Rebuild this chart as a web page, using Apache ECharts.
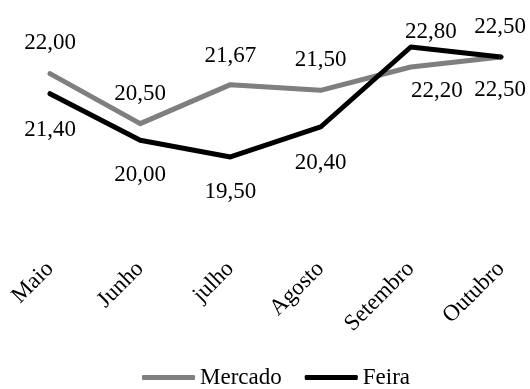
<!DOCTYPE html>
<html>
<head>
<meta charset="utf-8">
<script src="https://cdn.jsdelivr.net/npm/echarts@6/dist/echarts.min.js"></script>
<style>
  html, body { margin: 0; padding: 0; background: #fff; }
  #chart { width: 530px; height: 389px; }
</style>
</head>
<body>
<div id="chart"></div>
<script>
// Monthly prices, market vs. street fair
const months = ['Maio', 'Junho', 'julho', 'Agosto', 'Setembro', 'Outubro'];
const mercado = [22.00, 20.50, 21.67, 21.50, 22.20, 22.50];
const feira = [21.40, 20.00, 19.50, 20.40, 22.80, 22.50];

// Where each value label sits relative to its point (px)
const mercadoLabelOffsets = [[0, -31], [0, -30], [0, -29], [0, -30], [26, 24], [-1, 33]];
const feiraLabelOffsets = [[0, 36], [0, 35], [0, 35], [0, 36], [20, -15], [-1, -30]];

const FONT = 'Liberation Serif';
const fmt = v => v.toFixed(2).replace('.', ',');

function withLabels(values, offsets) {
  return values.map((v, i) => ({
    value: v,
    label: { offset: offsets[i] }
  }));
}

function lineSeries(name, values, offsets, color) {
  return {
    name: name,
    type: 'line',
    data: withLabels(values, offsets),
    symbol: 'circle',
    symbolSize: 4,
    showSymbol: true,
    itemStyle: { color: color },
    lineStyle: { color: color, width: 5, cap: 'round', join: 'round' },
    emphasis: { disabled: true },
    label: {
      show: true,
      position: 'inside',
      fontFamily: FONT,
      fontSize: 23,
      color: '#000',
      formatter: p => fmt(p.value)
    }
  };
}

const chart = echarts.init(document.getElementById('chart'), null, { renderer: 'canvas' });
chart.setOption({
  animation: false,
  backgroundColor: '#fff',
  grid: { left: 50, right: 29, top: 40.33, bottom: 148.67, containLabel: false },
  xAxis: {
    type: 'category',
    data: months,
    boundaryGap: false,
    axisLine: { show: false },
    axisTick: { show: false },
    splitLine: { show: false },
    axisLabel: {
      rotate: 45,
      margin: 25,
      interval: 0,
      fontFamily: FONT,
      fontSize: 23,
      color: '#000'
    }
  },
  yAxis: {
    type: 'value',
    min: 17,
    max: 23,
    show: false
  },
  legend: {
    left: 142,
    top: 366,
    padding: 0,
    icon: 'roundRect',
    itemWidth: 53,
    itemHeight: 5,
    itemGap: 23,
    selectedMode: false,
    textStyle: { fontFamily: FONT, fontSize: 23, color: '#000' },
    data: ['Mercado', 'Feira']
  },
  series: [
    lineSeries('Mercado', mercado, mercadoLabelOffsets, '#7f7f7f'),
    lineSeries('Feira', feira, feiraLabelOffsets, '#000000')
  ]
});
</script>
</body>
</html>
